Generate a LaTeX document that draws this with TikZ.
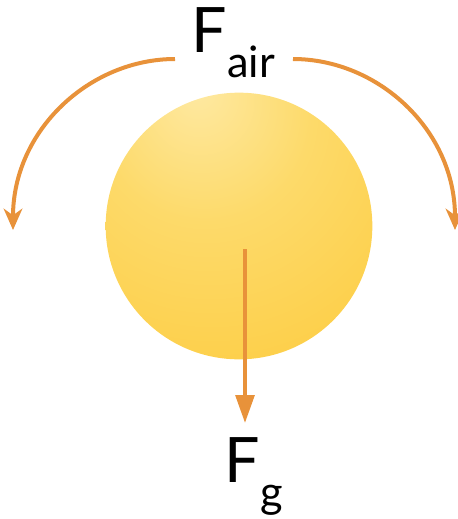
\documentclass[tikz,border=0pt]{standalone}
\usepackage{fontspec}
\setmainfont{Lato}
\usetikzlibrary{arrows.meta}
\definecolor{arroworange}{RGB}{232,146,58}
\definecolor{balllight}{RGB}{254,233,162}
\definecolor{ballmid}{RGB}{253,218,106}
\definecolor{ballouter}{RGB}{253,206,70}
\definecolor{balldeep}{RGB}{251,196,32}
\pgfdeclareradialshading{ballshade}{\pgfpoint{-8bp}{26bp}}{color(0bp)=(balllight); color(20bp)=(ballmid); color(45bp)=(ballouter); color(68bp)=(balldeep); color(100bp)=(balldeep)}
\tikzset{
  forcearc/.style={draw=arroworange, line width=3pt, -{Stealth[length=16pt, width=14pt, inset=5pt]}},
  gravityarrow/.style={draw=arroworange, line width=3pt, -{Triangle[length=21pt, width=14pt]}},
  label text/.style={inner sep=0pt, anchor=base west, font=\fontsize{47}{47}\selectfont}
}
\newcommand{\subpart}[1]{\raisebox{-18.75pt}{\fontsize{32.5}{32.5}\selectfont #1}}
\begin{document}
\begin{tikzpicture}[x=0.75pt, y=-0.75pt]
\useasboundingbox (0,0) rectangle (458,519);
\node (ball) [circle, minimum size=200pt, inner sep=0pt, shading=ballshade] at (239,226) {};
\node (fair) [label text] at (191.5,52) {F\subpart{air}};
\node (fg) [label text] at (224.5,482) {F\subpart{g}};
\coordinate (lstart) at (175,59);
\coordinate (lend) at (13,230);
\coordinate (rstart) at (293,59);
\coordinate (rend) at (455,230);
\coordinate (gtop) at (245,249);
\coordinate (gtip) at (245,423);
\draw[forcearc] (lstart) .. controls (90,59) and (13,130) .. (lend);
\draw[forcearc] (rstart) .. controls (378,59) and (455,130) .. (rend);
\draw[gravityarrow] (gtop) -- (gtip);
\end{tikzpicture}
\end{document}
